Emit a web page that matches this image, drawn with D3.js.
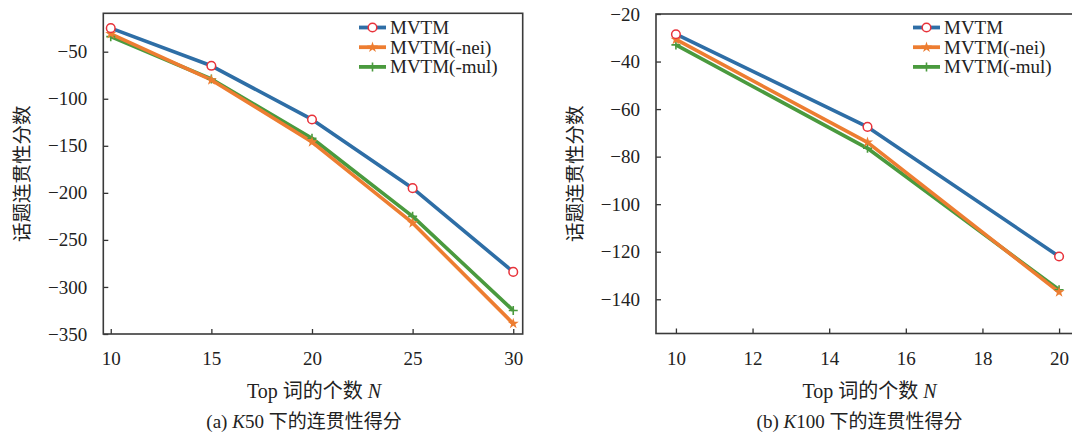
<!DOCTYPE html>
<html>
<head>
<meta charset="utf-8">
<script src="https://cdn.jsdelivr.net/npm/d3@7"></script>
<style>
  html, body { margin: 0; padding: 0; background: #fff; overflow: hidden; }
  svg { display: block; }
  text { font-family: "Liberation Serif", "Times New Roman", "Noto Sans CJK SC", serif; fill: #222; }
</style>
</head>
<body>
<svg id="chart" width="1072" height="441"></svg>
<script>
// ---------- data ----------
const seriesNames = ["MVTM", "MVTM(-nei)", "MVTM(-mul)"];

const leftN = [10, 15, 20, 25, 30];
const leftMVTM = [-25, -65, -122, -195, -284];
const leftNei = [-31, -80, -146, -232, -339];
const leftMul = [-34, -79, -142, -225, -325];
const leftXTicks = [10, 15, 20, 25, 30];
const leftYTicks = [-50, -100, -150, -200, -250, -300, -350];

const rightN = [10, 15, 20];
const rightMVTM = [-28.5, -67.5, -122];
const rightNei = [-30.7, -74, -137];
const rightMul = [-33, -76.5, -136];
const rightXTicks = [10, 12, 14, 16, 18, 20];
const rightYTicks = [-20, -40, -60, -80, -100, -120, -140];

const yTitle = "话题连贯性分数";
const xTitle = "Top 词的个数 ";
const captionA = ["(a) ", "K", "50 下的连贯性得分"];
const captionB = ["(b) ", "K", "100 下的连贯性得分"];

// ---------- styles ----------
const colors = ["#2e6ea6", "#ed7d31", "#4a9a3e"];
const markerRed = "#e8323a";
const svg = d3.select("#chart");

function drawMarker(g, kind, x, y) {
  if (kind === 0) {
    g.append("circle").attr("cx", x).attr("cy", y).attr("r", 4.3)
      .attr("fill", "#fff").attr("stroke", markerRed).attr("stroke-width", 1.5);
  } else if (kind === 1) {
    g.append("path").attr("d", d3.symbol(d3.symbolStar, 38)())
      .attr("transform", `translate(${x},${y})`).attr("fill", colors[1]);
  } else {
    g.append("path").attr("d", "M-4.5,0H4.5M0,-4.5V4.5")
      .attr("transform", `translate(${x},${y})`)
      .attr("stroke", colors[2]).attr("stroke-width", 1.6).attr("fill", "none");
  }
}

function drawPanel(cfg) {
  const g = svg.append("g");
  const x = d3.scaleLinear().domain(cfg.xDomain).range([cfg.left, cfg.right]);
  const y = d3.scaleLinear().domain(cfg.yDomain).range([cfg.bottom, cfg.top]);

  // axes with inward ticks
  const ya = g.append("g").attr("transform", `translate(${cfg.left},0)`)
    .call(d3.axisLeft(y).tickValues(cfg.yTicks).tickSize(-5).tickPadding(16).tickFormat(d3.format("d")));
  const xa = g.append("g").attr("transform", `translate(0,${cfg.bottom})`)
    .call(d3.axisBottom(x).tickValues(cfg.xTicks).tickSize(-5).tickPadding(18).tickFormat(d3.format("d")));
  [ya, xa].forEach(a => {
    a.select(".domain").remove();
    a.selectAll(".tick line").attr("stroke", "#333").attr("stroke-width", 1.3);
    a.selectAll(".tick text").attr("font-size", 19).attr("fill", "#222")
      .attr("font-family", "'Liberation Serif', serif");
  });

  // frame
  g.append("rect").attr("x", cfg.left).attr("y", cfg.top)
    .attr("width", cfg.right - cfg.left).attr("height", cfg.bottom - cfg.top)
    .attr("fill", "none").attr("stroke", "#3a3a3a").attr("stroke-width", 1.6);

  // lines
  const line = d3.line().x(d => x(d[0])).y(d => y(d[1]));
  const order = [2, 1, 0];
  order.forEach(i => {
    const pts = cfg.N.map((n, j) => [n, cfg.series[i][j]]);
    g.append("path").datum(pts).attr("d", line).attr("fill", "none")
      .attr("stroke", colors[i]).attr("stroke-width", 3.6).attr("stroke-linejoin", "round");
  });
  order.forEach(i => {
    cfg.N.forEach((n, j) => drawMarker(g, i, x(n), y(cfg.series[i][j])));
  });

  // legend
  seriesNames.forEach((name, i) => {
    const ly = cfg.legendY + i * 19.7;
    g.append("line").attr("x1", cfg.legendX).attr("x2", cfg.legendX + 27)
      .attr("y1", ly).attr("y2", ly).attr("stroke", colors[i]).attr("stroke-width", 3.8);
    drawMarker(g, i, cfg.legendX + 13.5, ly);
    g.append("text").attr("x", cfg.legendX + 31).attr("y", ly + 6.5)
      .attr("font-size", 19).text(name);
  });

  // y title
  g.append("text")
    .attr("transform", `translate(${cfg.yTitleX},${(cfg.top + cfg.bottom) / 2}) rotate(-90)`)
    .attr("text-anchor", "middle").attr("dy", "0.35em")
    .attr("font-size", 19.5).attr("font-family", "'Noto Sans CJK SC', sans-serif")
    .attr("fill", "#333").text(yTitle);

  // x title
  const cx = (x(cfg.xTicks[0]) + x(cfg.xTicks[cfg.xTicks.length - 1])) / 2;
  const xt = g.append("text").attr("x", cx + 2).attr("y", 398).attr("text-anchor", "middle")
    .attr("font-size", 20);
  xt.append("tspan").text(xTitle);
  xt.append("tspan").attr("font-style", "italic").text("N");

  // caption
  const ct = g.append("text").attr("x", cx - 8).attr("y", 428).attr("text-anchor", "middle")
    .attr("font-size", 19);
  ct.append("tspan").text(cfg.caption[0]);
  ct.append("tspan").attr("font-style", "italic").text(cfg.caption[1]);
  ct.append("tspan").text(cfg.caption[2]);
}

drawPanel({
  left: 103.3, right: 522.7, top: 13.3, bottom: 334,
  xDomain: [9.63, 30.47], yDomain: [-350, -9.2],
  xTicks: leftXTicks, yTicks: leftYTicks,
  N: leftN, series: [leftMVTM, leftNei, leftMul],
  legendX: 359, legendY: 27.5, yTitleX: 22, caption: captionA
});

drawPanel({
  left: 656, right: 1079, top: 14, bottom: 333.5,
  xDomain: [9.48, 20.52], yDomain: [-154.4, -20],
  xTicks: rightXTicks, yTicks: rightYTicks,
  N: rightN, series: [rightMVTM, rightNei, rightMul],
  legendX: 913, legendY: 27.5, yTitleX: 575, caption: captionB
});
</script>
</body>
</html>
